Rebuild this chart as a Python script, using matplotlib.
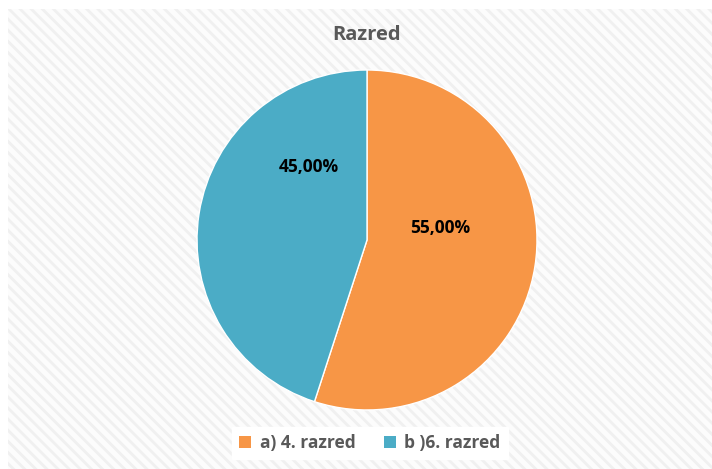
import matplotlib.pyplot as plt
from matplotlib.patches import Rectangle, Patch

# data
labels = ['a) 4. razred', 'b )6. razred']
values = [55.0, 45.0]
colors = ['#F79646', '#4BACC6']
title = 'Razred'

plt.rcParams['font.family'] = ['Open Sans', 'DejaVu Sans']
plt.rcParams['hatch.color'] = '#f0f0f0'
plt.rcParams['hatch.linewidth'] = 2.0

fig = plt.figure(figsize=(7.12, 4.69), dpi=100)
fig.patch.set_facecolor('white')

# striped chart background
bg = Rectangle((8 / 712, 0), 1, 1 - 9 / 469, transform=fig.transFigure,
               facecolor='#fcfcfc', edgecolor='#f0f0f0', hatch='\\\\\\', linewidth=0,
               zorder=-1)
fig.patches.append(bg)

ax = fig.add_axes([0.2767, 0.1258, 0.4775, 0.725])
ax.set_facecolor('none')
wedges, texts, autotexts = ax.pie(values, colors=colors, startangle=90, counterclock=False,
                                  autopct=lambda p: f'{p:.2f}%'.replace('.', ','),
                                  pctdistance=0.5,
                                  wedgeprops=dict(edgecolor='white', linewidth=1),
                                  textprops=dict(fontsize=12.5, fontweight='bold', color='black'))
ax.set_xlim(-1, 1)
ax.set_ylim(-1, 1)
ax.set_aspect('equal')
# move percentage labels to where Excel put them
autotexts[0].set_position((0.43, 0.07))
autotexts[1].set_position((-0.34, 0.43))

fig.text(0.5154, 1 - 35 / 469, title, ha='center', va='center', fontsize=14.5,
         fontweight='bold', color='#595959')

leg = fig.legend([Patch(facecolor=c) for c in colors], labels, loc='center',
                 bbox_to_anchor=(370 / 712, 1 - 443 / 469), ncol=2, frameon=True,
                 facecolor='white', edgecolor='white', framealpha=1, fancybox=False,
                 handlelength=0.7, handleheight=0.7, handletextpad=0.5, columnspacing=1.6,
                 prop=dict(size=12.5, weight='bold'))
for t in leg.get_texts():
    t.set_color('#595959')

plt.savefig('out.png', dpi=100)
